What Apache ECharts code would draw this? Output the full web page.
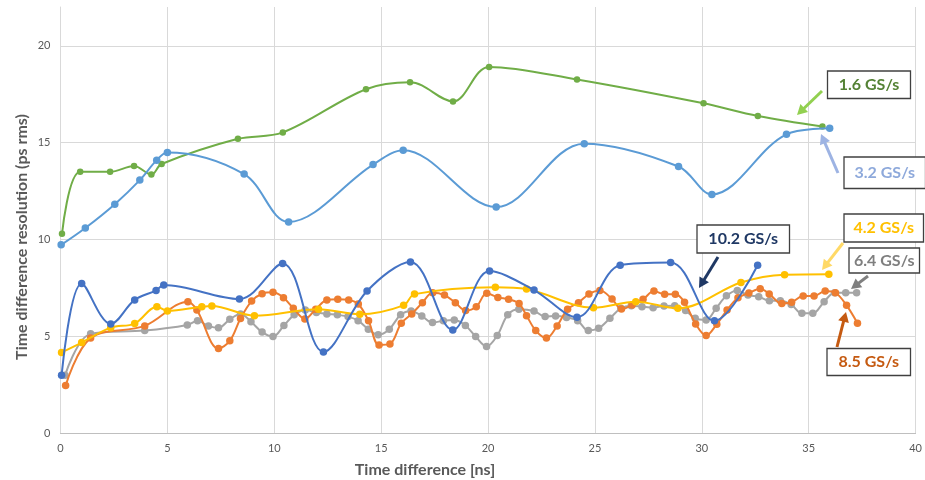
<!DOCTYPE html>
<html>
<head>
<meta charset="utf-8">
<script src="https://cdn.jsdelivr.net/npm/echarts@6/dist/echarts.min.js"></script>
<style>html,body{margin:0;padding:0;background:#fff}#c{width:925px;height:480px}</style>
</head>
<body>
<div id="c"></div>
<script>
// ---- data (time difference [ns], resolution [ps rms]) ----
var xTicks = [0, 5, 10, 15, 20, 25, 30, 35, 40];
var yTicks = [0, 5, 10, 15, 20];
var seriesNames = ['1.6 GS/s', '3.2 GS/s', '6.4 GS/s', '8.5 GS/s', '4.2 GS/s', '10.2 GS/s'];

var s16 = [[0.07,10.3],[0.92,13.5],[2.32,13.5],[3.44,13.8],[4.25,13.36],[4.73,13.9],[8.3,15.2],[10.4,15.53],[14.29,17.76],[16.35,18.12],[18.36,17.13],[20.05,18.91],[24.16,18.26],[30.08,17.03],[32.62,16.38],[35.64,15.84]];
var s32 = [[0.03,9.73],[1.16,10.6],[2.54,11.83],[3.71,13.07],[4.5,14.1],[5.0,14.5],[8.59,13.38],[10.67,10.91],[14.62,13.87],[16.03,14.61],[20.38,11.68],[24.5,14.95],[28.91,13.77],[30.47,12.33],[33.96,15.43],[35.98,15.74]];
var s102 = [[0.05,3.0],[0.99,7.74],[2.35,5.65],[3.47,6.89],[4.47,7.38],[4.83,7.66],[8.37,6.94],[10.39,8.77],[12.3,4.21],[14.34,7.35],[16.37,8.85],[18.35,5.34],[20.07,8.38],[22.15,7.4],[24.16,6.0],[26.18,8.68],[28.54,8.82],[30.59,5.81],[32.61,8.68]];
var s42 = [[0.05,4.18],[0.99,4.69],[2.35,5.46],[3.47,5.67],[4.51,6.54],[5.0,6.32],[6.61,6.54],[7.08,6.58],[9.07,6.08],[12.07,6.41],[14.0,6.15],[16.05,6.61],[16.56,7.19],[20.34,7.55],[21.8,7.45],[24.93,6.49],[26.91,6.8],[28.88,6.46],[31.83,7.79],[33.87,8.19],[35.94,8.22]];
var s64 = [[0.21,3.0],[1.41,5.14],[3.94,5.31],[5.93,5.6],[6.41,5.81],[6.92,5.55],[7.39,5.45],[7.92,5.89],[8.42,6.17],[8.91,5.77],[9.43,5.23],[9.94,5.0],[10.45,5.57],[10.93,6.12],[11.45,6.37],[11.97,6.24],[12.46,6.17],[12.95,6.12],[13.45,6.03],[13.92,5.82],[14.4,5.38],[14.86,5.09],[15.38,5.38],[15.91,6.12],[16.4,6.32],[16.9,6.06],[17.4,5.72],[17.91,5.82],[18.42,5.86],[18.94,5.57],[19.42,5.0],[19.93,4.49],[20.43,5.05],[20.92,6.12],[21.44,6.41],[22.15,6.32],[22.67,6.03],[23.16,6.06],[23.67,5.99],[24.19,5.82],[24.69,5.31],[25.17,5.43],[25.7,5.94],[26.21,6.46],[26.7,6.59],[27.2,6.54],[27.72,6.49],[28.23,6.58],[28.73,6.59],[29.24,6.34],[29.69,5.94],[30.2,5.86],[30.67,6.46],[31.15,7.1],[31.66,7.38],[32.16,7.14],[32.66,7.06],[33.16,6.85],[33.67,6.85],[34.18,6.66],[34.68,6.2],[35.19,6.2],[35.72,6.8],[36.21,7.26],[36.73,7.26],[37.24,7.26]];
var s85 = [[0.24,2.47],[1.41,4.92],[3.94,5.55],[5.96,6.8],[6.38,6.37],[7.39,4.38],[7.92,4.78],[8.42,5.93],[8.94,6.83],[9.43,7.21],[9.94,7.28],[10.43,7.0],[10.89,6.46],[11.43,5.91],[11.94,6.41],[12.46,6.89],[12.97,6.92],[13.48,6.89],[13.93,6.68],[14.41,5.81],[14.9,4.57],[15.41,4.62],[15.94,5.69],[16.43,6.17],[16.93,6.75],[17.41,7.26],[17.96,7.14],[18.47,6.75],[18.95,6.34],[19.45,6.54],[19.94,7.23],[20.46,7.02],[20.96,6.92],[21.45,6.71],[21.8,6.08],[22.23,5.31],[22.73,4.92],[23.23,5.55],[23.72,6.41],[24.23,6.75],[24.72,7.19],[25.23,7.37],[25.8,6.94],[26.24,6.42],[26.74,6.63],[27.25,6.92],[27.76,7.35],[28.26,7.18],[28.76,7.18],[29.19,6.77],[29.71,5.65],[30.2,5.05],[30.7,5.64],[31.18,6.37],[31.69,7.0],[32.2,7.25],[32.73,7.47],[33.15,7.2],[33.74,6.71],[34.2,6.77],[34.74,7.09],[35.25,7.09],[35.77,7.35],[36.25,7.26],[36.77,6.61],[37.28,5.69]];

var seriesData = [s16, s32, s64, s85, s42, s102];
var seriesColors = ['#70AD47', '#5B9BD5', '#A5A5A5', '#ED7D31', '#FFC000', '#4472C4'];

var FONT = 'Lato, "Open Sans", sans-serif';

function arrow(x1, y1, x2, y2, color) {
  var dx = x2 - x1, dy = y2 - y1, L = Math.sqrt(dx*dx + dy*dy);
  var ux = dx / L, uy = dy / L, hl = 10, hw = 5.5;
  var bx = x2 - ux*hl, by = y2 - uy*hl;
  return {
    type: 'group', silent: true, z: 100,
    children: [
      {type: 'line', z: 100, shape: {x1: x1, y1: y1, x2: bx + ux*2, y2: by + uy*2}, style: {stroke: color, lineWidth: 3}},
      {type: 'polygon', z: 100, shape: {points: [[x2, y2], [bx - uy*hw, by + ux*hw], [bx + uy*hw, by - ux*hw]]}, style: {fill: color}}
    ]
  };
}
function box(x1, y1, x2, y2, text, color) {
  return {
    type: 'group', silent: true, z: 100,
    children: [
      {type: 'rect', z: 100, shape: {x: x1, y: y1, width: x2 - x1, height: y2 - y1}, style: {fill: '#fff', stroke: '#404040', lineWidth: 1.3}},
      {type: 'text', z: 101, x: (x1 + x2) / 2, y: (y1 + y2) / 2, style: {text: text, fill: color, font: 'bold 16px ' + FONT, align: 'center', verticalAlign: 'middle'}}
    ]
  };
}

var chart = echarts.init(document.getElementById('c'), null, {renderer: 'canvas'});
var series = seriesData.map(function (d, i) {
  return {
    name: seriesNames[i], type: 'line', data: d, smooth: 0.35,
    symbol: 'circle', symbolSize: i === 0 ? 6.5 : 7.5,
    lineStyle: {color: seriesColors[i], width: 2},
    itemStyle: {color: seriesColors[i]},
    z: 2 + i, animation: false
  };
});

chart.setOption({
  animation: false,
  grid: {left: 60.5, right: 7, top: 7, bottom: 46.5, containLabel: false},
  xAxis: {
    type: 'value', min: xTicks[0], max: xTicks[xTicks.length - 1], interval: 5,
    axisLine: {show: true, lineStyle: {color: '#BFBFBF', width: 1}},
    axisTick: {show: false},
    axisLabel: {color: '#595959', fontFamily: FONT, fontSize: 11, margin: 9},
    splitLine: {show: true, lineStyle: {color: '#D9D9D9', width: 1}}
  },
  yAxis: {
    type: 'value', min: yTicks[0], max: 22, interval: 5,
    axisLine: {show: true, lineStyle: {color: '#D9D9D9', width: 1}},
    axisTick: {show: false},
    axisLabel: {color: '#595959', fontFamily: FONT, fontSize: 11, margin: 10, showMaxLabel: false},
    splitLine: {show: true, showMaxLine: false, lineStyle: {color: '#D9D9D9', width: 1}}
  },
  series: series,
  graphic: [
    {type: 'text', x: 425, y: 470, z: 100, silent: true, style: {text: 'Time difference [ns]', fill: '#595959', font: 'bold 16px ' + FONT, align: 'center', verticalAlign: 'middle'}},
    {type: 'text', x: 22, y: 237, z: 100, rotation: Math.PI / 2, silent: true, style: {text: 'Time difference resolution (ps rms)', fill: '#595959', font: 'bold 16px ' + FONT, align: 'center', verticalAlign: 'middle'}},
    arrow(822, 91, 797, 115, '#92D050'),
    box(827.5, 71, 910.5, 98.5, '1.6 GS/s', '#548235'),
    arrow(838, 173, 821, 134, '#9DB3E3'),
    box(844, 157, 925.5, 188.5, '3.2 GS/s', '#8EA9DB'),
    arrow(843, 243, 822, 270, '#FFD966'),
    box(844, 214, 923.5, 242, '4.2 GS/s', '#FFC000'),
    arrow(868, 276, 851, 289, '#7F7F7F'),
    box(849, 248, 919.5, 273, '6.4 GS/s', '#7F7F7F'),
    arrow(718, 257, 699, 288, '#1F3864'),
    box(697, 225, 789.5, 253, '10.2 GS/s', '#1F3864'),
    arrow(837, 347, 846, 312, '#C55A11'),
    box(827, 348.5, 910.5, 375.5, '8.5 GS/s', '#C55A11')
  ]
});
</script>
</body>
</html>
